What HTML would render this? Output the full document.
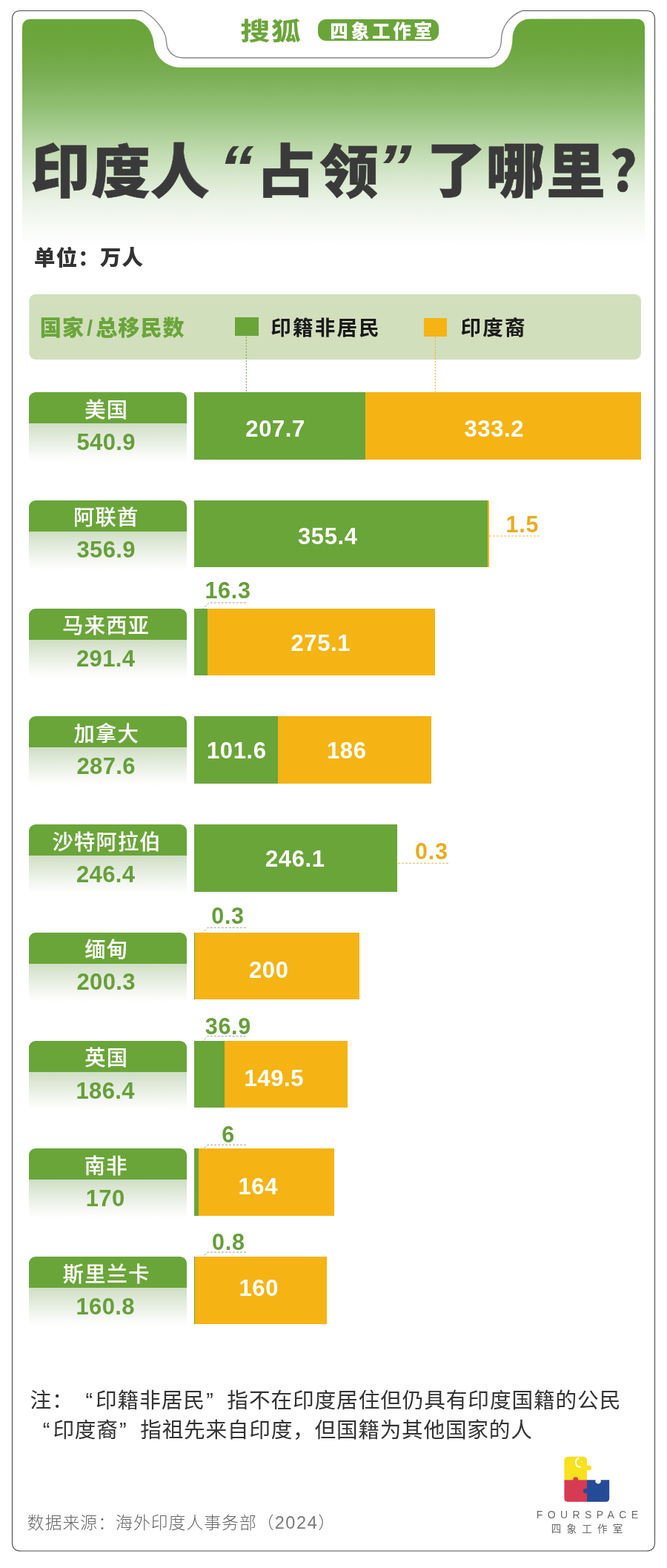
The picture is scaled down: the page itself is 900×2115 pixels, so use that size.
<!DOCTYPE html>
<html lang="zh-CN">
<head>
<meta charset="utf-8">
<title>印度人“占领”了哪里？</title>
<style>
*{margin:0;padding:0;box-sizing:border-box}
html,body{width:900px;height:2115px;background:#fff;overflow:hidden}
body{position:relative;font-family:"Liberation Sans","Noto Sans CJK SC",sans-serif;color:#333}
.abs{position:absolute;white-space:nowrap;line-height:1}
#bg{position:absolute;left:0;top:0}
.tc{font-size:80px;font-weight:900;color:#3a3a3a;line-height:80px;height:80px;transform:translateX(-50%);-webkit-text-stroke:0.6px #3a3a3a}
.tq{font-size:84px;font-weight:900;color:#3a3a3a;line-height:80px;height:80px;transform:translateX(-50%) skewX(-14deg) scaleX(1.12)}
.unit{font-size:28.4px;font-weight:900;color:#333;line-height:30px;letter-spacing:1.2px;padding-left:1.2px;transform:translateX(-50%)}
.lg1{font-size:29px;line-height:32px;font-weight:900;color:#6aa539;letter-spacing:1.1px;padding-left:1.1px;transform:translateX(-50%)}
.lg1 i{font-style:normal;margin:0 3px}
.sq{height:25.2px}
.lgt{font-size:27.6px;line-height:32px;font-weight:700;color:#1a1a1a;letter-spacing:2.1px;padding-left:2.1px;transform:translateX(-50%)}
.lab{left:39.3px;width:212.6px;height:95px}
.lab .top{position:absolute;left:0;top:0;width:100%;height:42px;background:#6aa539;border-radius:9px 9px 0 0}
.lab .bot{position:absolute;left:0;top:42px;width:100%;height:53px;background:linear-gradient(#cfdec4,#dfe9d8 30%,#f1f5ee 65%,#fdfdfc 90%,#fff 100%)}
.nm{color:#fff;font-size:28.2px;font-weight:500;line-height:30px;letter-spacing:1.3px;padding-left:1.3px;-webkit-text-stroke:0.15px #fff;transform:translateX(-50%)}
.tt{color:#669f3a;font-size:31px;font-weight:700;line-height:30px;letter-spacing:0.4px;transform:translateX(-50%);padding-left:0.4px}
.bar{height:90.7px}
.num{font-size:31px;font-weight:700;color:#fff;line-height:30px;letter-spacing:0.6px;padding-left:0.6px;transform:translateX(-50%)}
.out{font-size:30.5px;font-weight:700;line-height:30px;letter-spacing:0.7px;padding-left:0.7px;transform:translateX(-50%)}
.note{font-size:28.7px;line-height:32px;color:#333;font-weight:400;letter-spacing:0.86px}
.note b{font-weight:400;display:inline-block;width:29.56px;letter-spacing:0}
.note b.l{text-align:right;padding-right:0.14em}
.note b.r{text-align:left;padding-left:0.05em}
.src{font-size:22.8px;line-height:30px;color:#686868;font-weight:300;letter-spacing:1.05px}
.src i{font-style:normal;letter-spacing:1.6px;font-size:23.5px;color:#7a7a7a}
.brand{font-size:33px;font-weight:700;color:#6aa539;line-height:40px;letter-spacing:1.5px;padding-left:1.5px;transform:translateX(-50%) scaleX(1.2);-webkit-text-stroke:0.3px #6aa539}
.badge{left:429px;top:26px;width:163.4px;height:29.4px;border-radius:11px;background:#6aa539}
.bt{color:#fff;font-size:24.5px;font-weight:900;line-height:30px;letter-spacing:3.8px;padding-left:3.8px;transform:translateX(-50%)}
.fs{font-size:14px;line-height:16px;color:#6a6a6a;letter-spacing:6.4px;padding-left:6.4px;font-weight:400;transform:translateX(-50%)}
.fs2{font-size:13.5px;line-height:16px;color:#6a6a6a;letter-spacing:7.2px;padding-left:7.2px;font-weight:400;transform:translateX(-50%)}
</style>
</head>
<body>
<svg id="bg" width="900" height="2115" viewBox="0 0 900 2115"><defs><linearGradient id="gg" gradientUnits="userSpaceOnUse" x1="0" y1="25" x2="0" y2="345"><stop offset="0" stop-color="#69a538"/><stop offset="0.10" stop-color="#6ca63d"/><stop offset="0.23" stop-color="#78ad52"/><stop offset="0.37" stop-color="#90bf73"/><stop offset="0.47" stop-color="#a8cd92"/><stop offset="0.57" stop-color="#c2dcb2"/><stop offset="0.67" stop-color="#d8e8ce"/><stop offset="0.77" stop-color="#ebf2e6"/><stop offset="0.87" stop-color="#f7faf5"/><stop offset="0.96" stop-color="#ffffff"/></linearGradient></defs>
<path fill="url(#gg)" d="M30,345 V37.8 Q30,25.8 42,25.8 H180 C195,27.5 206,42 207.5,58 C209,76 222,89 241,91 H664 C680,90 691,74 691.5,52 C692,38 700,25.5 716,25.5 H858 Q870,25.5 870,37.5 V345 Z"/>
<path fill="none" stroke="#4e4e4e" stroke-width="1.15" d="M192.5,14.5 H28 Q16.5,14.5 16.5,26 V2080.5 Q16.5,2092 28,2092 H872 Q883.5,2092 883.5,2080.5 V26 Q883.5,14.5 872,14.5 H704.5"/><path fill="none" stroke="#858585" stroke-width="1.35" d="M192.5,14.5 C207,22 224,40 224.5,56 C225,70 234,78 248,78 H657 C668,77.8 676.5,68 676.5,53 C676.5,36 688,21 704.5,14.5"/>
<rect x="39.3" y="396.7" width="825.7" height="88.3" rx="9" fill="#d2dfbd"/><path d="M332.3,454 V528.5" stroke="#6aa539" stroke-width="1" stroke-dasharray="2 2" fill="none"/><path d="M587.3,455 V528.5" stroke="#f0a818" stroke-width="1" stroke-dasharray="2 2" fill="none"/>
<path d="M660.0,723.0 H728.3" stroke="#e9b035" stroke-width="0.9" stroke-dasharray="3 2" fill="none"/><path d="M331.7,813.0 H282.0 L274.0,821.0" stroke="#8f9a86" stroke-width="0.9" stroke-dasharray="3 2" fill="none"/><path d="M537.0,1164.3 H606.7" stroke="#e9b035" stroke-width="0.9" stroke-dasharray="3 2" fill="none"/><path d="M331.7,1251.3 H280.0 L272.0,1259.3" stroke="#8f9a86" stroke-width="0.9" stroke-dasharray="3 2" fill="none"/><path d="M331.7,1397.7 H280.0 L272.0,1405.7" stroke="#8f9a86" stroke-width="0.9" stroke-dasharray="3 2" fill="none"/><path d="M332.0,1544.3 H280.0 L272.0,1552.3" stroke="#8f9a86" stroke-width="0.9" stroke-dasharray="3 2" fill="none"/><path d="M332.0,1689.0 H280.0 L272.0,1697.0" stroke="#8f9a86" stroke-width="0.9" stroke-dasharray="3 2" fill="none"/>
<g><path fill="#f9e11e" d="M761.4,1996.6 V1970.5 Q761.4,1964.7 767.2,1964.7 H786.2 Q792,1964.7 792,1970.5 V1976.6 H794.6 A3.3,3.3 0 0 1 794.6,1983.2 H792 V1996.6 Z"/><path fill="none" stroke="#fff" stroke-width="2" stroke-linecap="round" d="M780.4,1967 A6.2,6.2 0 0 0 782.8,1978.8"/><circle cx="785" cy="1971.7" r="0.9" fill="#fff"/><path fill="#d73a53" d="M761.4,1996.2 H773.4 V1995.6 A3.3,3.3 0 0 1 780,1995.6 V1996.2 H792 V2025.8 H766.2 Q761.4,2025.8 761.4,2021 Z"/><path fill="#244b97" d="M792,1996.2 H803.7 A3.5,3.5 0 0 0 810.7,1999 V1996.2 H822.2 V2021 Q822.2,2025.8 817.4,2025.8 H792 V2014.3 H790.3 A3.3,3.3 0 0 1 790.3,2007.7 H792 Z"/></g>
</svg>
<div class="abs brand" id="brand" style="left:364.5px;top:23.2px">搜狐</div>
<div class="abs badge"></div>
<div class="abs bt" id="bt" style="left:514.2px;top:28.0px">四象工作室</div>
<div class="abs tc" id="t0" style="left:81.5px;top:192.0px">印</div><div class="abs tc" id="t1" style="left:163.0px;top:193.5px;transform:translateX(-50%) scaleY(0.965)">度</div><div class="abs tc" id="t2" style="left:242.7px;top:193.0px">人</div><div class="abs tq" id="t3" style="left:318.5px;top:185.8px">“</div><div class="abs tc" id="t4" style="left:385.7px;top:192.9px;transform:translateX(-50%) scaleY(0.965)">占</div><div class="abs tc" id="t5" style="left:471.0px;top:194.0px;transform:translateX(-50%) scaleY(0.965)">领</div><div class="abs tq" id="t6" style="left:532.0px;top:185.3px">”</div><div class="abs tc" id="t7" style="left:615.5px;top:191.1px">了</div><div class="abs tc" id="t8" style="left:695.3px;top:191.8px">哪</div><div class="abs tc" id="t9" style="left:777.0px;top:192.6px">里</div><div class="abs tc" id="t10" style="left:857.8px;top:192.0px;font-size:76px;transform:translateX(-50%) scaleX(0.9)">？</div>
<div class="abs unit" id="unit" style="left:119.5px;top:333.0px">单位：万人</div>
<div class="abs lg1" id="lg1" style="left:151.2px;top:427.1px">国家<i>/</i>总移民数</div>
<div class="abs sq" style="left:316.7px;top:428.3px;width:32.3px;background:#6aa539"></div>
<div class="abs lgt" id="lgt1" style="left:438.5px;top:427.0px">印籍非居民</div>
<div class="abs sq" style="left:572.3px;top:429px;width:31px;background:#f5b414"></div>
<div class="abs lgt" id="lgt2" style="left:665.0px;top:427.0px">印度裔</div>
<div class="abs lab" style="top:529.00px"><div class="top"></div><div class="bot"></div></div><div class="abs nm" id="nm0" style="left:143.0px;top:537.6px">美国</div><div class="abs tt" id="tt0" style="left:143.0px;top:582.0px">540.9</div>
<div class="abs bar" style="left:261.7px;top:529.00px;width:603.1px;background:#f5b414"></div><div class="abs bar" style="left:261.7px;top:529.00px;width:231.6px;background:#6aa539"></div>
<div class="abs num" id="g0" style="left:371.3px;top:564.0px">207.7</div><div class="abs num" id="y0" style="left:666.5px;top:564.0px">333.2</div>
<div class="abs lab" style="top:674.75px"><div class="top"></div><div class="bot"></div></div><div class="abs nm" id="nm1" style="left:142.5px;top:683.0px">阿联酋</div><div class="abs tt" id="tt1" style="left:143.0px;top:727.2px">356.9</div>
<div class="abs bar" style="left:261.7px;top:674.75px;width:397.9px;background:#f5b414"></div><div class="abs bar" style="left:261.7px;top:674.75px;width:396.3px;background:#6aa539"></div>
<div class="abs num" id="g1" style="left:442.0px;top:709.0px">355.4</div><div class="abs out" id="y1" style="left:704.5px;top:691.5px;color:#ebac1f">1.5</div>
<div class="abs lab" style="top:820.50px"><div class="top"></div><div class="bot"></div></div><div class="abs nm" id="nm2" style="left:142.5px;top:829.1px">马来西亚</div><div class="abs tt" id="tt2" style="left:142.5px;top:873.5px">291.4</div>
<div class="abs bar" style="left:261.7px;top:820.50px;width:324.9px;background:#f5b414"></div><div class="abs bar" style="left:261.7px;top:820.50px;width:18.2px;background:#6aa539"></div>
<div class="abs out" id="g2" style="left:307.2px;top:781.0px;color:#669f3a">16.3</div><div class="abs num" id="y2" style="left:432.5px;top:853.0px">275.1</div>
<div class="abs lab" style="top:966.25px"><div class="top"></div><div class="bot"></div></div><div class="abs nm" id="nm3" style="left:143.0px;top:974.9px">加拿大</div><div class="abs tt" id="tt3" style="left:143.0px;top:1018.8px">287.6</div>
<div class="abs bar" style="left:261.7px;top:966.25px;width:320.7px;background:#f5b414"></div><div class="abs bar" style="left:261.7px;top:966.25px;width:113.3px;background:#6aa539"></div>
<div class="abs num" id="g3" style="left:319.0px;top:997.8px">101.6</div><div class="abs num" id="y3" style="left:467.5px;top:997.8px">186</div>
<div class="abs lab" style="top:1112.00px"><div class="top"></div><div class="bot"></div></div><div class="abs nm" id="nm4" style="left:143.5px;top:1120.6px">沙特阿拉伯</div><div class="abs tt" id="tt4" style="left:142.5px;top:1165.0px">246.4</div>
<div class="abs bar" style="left:261.7px;top:1112.00px;width:274.7px;background:#f5b414"></div><div class="abs bar" style="left:261.7px;top:1112.00px;width:274.4px;background:#6aa539"></div>
<div class="abs num" id="g4" style="left:398.0px;top:1143.5px">246.1</div><div class="abs out" id="y4" style="left:582.0px;top:1133.0px;color:#ebac1f">0.3</div>
<div class="abs lab" style="top:1257.75px"><div class="top"></div><div class="bot"></div></div><div class="abs nm" id="nm5" style="left:143.0px;top:1266.0px">缅甸</div><div class="abs tt" id="tt5" style="left:143.0px;top:1310.2px">200.3</div>
<div class="abs bar" style="left:261.7px;top:1257.75px;width:223.3px;background:#f5b414"></div><div class="abs bar" style="left:261.7px;top:1257.75px;width:0.3px;background:#6aa539"></div>
<div class="abs out" id="g5" style="left:307.2px;top:1219.5px;color:#669f3a">0.3</div><div class="abs num" id="y5" style="left:362.5px;top:1294.0px">200</div>
<div class="abs lab" style="top:1403.50px"><div class="top"></div><div class="bot"></div></div><div class="abs nm" id="nm6" style="left:143.0px;top:1412.1px">英国</div><div class="abs tt" id="tt6" style="left:142.0px;top:1456.5px">186.4</div>
<div class="abs bar" style="left:261.7px;top:1403.50px;width:207.8px;background:#f5b414"></div><div class="abs bar" style="left:261.7px;top:1403.50px;width:41.1px;background:#6aa539"></div>
<div class="abs out" id="g6" style="left:307.5px;top:1369.2px;color:#669f3a">36.9</div><div class="abs num" id="y6" style="left:369.5px;top:1440.0px">149.5</div>
<div class="abs lab" style="top:1549.25px"><div class="top"></div><div class="bot"></div></div><div class="abs nm" id="nm7" style="left:142.5px;top:1558.3px">南非</div><div class="abs tt" id="tt7" style="left:142.0px;top:1601.8px">170</div>
<div class="abs bar" style="left:261.7px;top:1549.25px;width:189.5px;background:#f5b414"></div><div class="abs bar" style="left:261.7px;top:1549.25px;width:6.7px;background:#6aa539"></div>
<div class="abs out" id="g7" style="left:307.8px;top:1515.2px;color:#669f3a">6</div><div class="abs num" id="y7" style="left:348.0px;top:1585.5px">164</div>
<div class="abs lab" style="top:1695.00px"><div class="top"></div><div class="bot"></div></div><div class="abs nm" id="nm8" style="left:143.0px;top:1703.6px">斯里兰卡</div><div class="abs tt" id="tt8" style="left:142.0px;top:1748.0px">160.8</div>
<div class="abs bar" style="left:261.7px;top:1695.00px;width:179.3px;background:#f5b414"></div><div class="abs bar" style="left:261.7px;top:1695.00px;width:0.9px;background:#6aa539"></div>
<div class="abs out" id="g8" style="left:308.0px;top:1659.5px;color:#669f3a">0.8</div><div class="abs num" id="y8" style="left:349.0px;top:1723.0px">160</div>
<div class="abs note" id="note1" style="left:40.4px;top:1872.9px">注：<b class="l">“</b>印籍非居民<b class="r">”</b>指不在印度居住但仍具有印度国籍的公民</div>
<div class="abs note" id="note2" style="letter-spacing:0.72px;left:41.9px;top:1912.9px"><b class="l">“</b>印度裔<b class="r">”</b>指祖先来自印度，但国籍为其他国家的人</div>
<div class="abs src" id="src" style="left:36.8px;top:2038.6px">数据来源：海外印度人事务部（<i>2024</i>）</div>
<div class="abs fs" id="fs" style="left:792.5px;top:2035.3px">FOURSPACE</div>
<div class="abs fs2" id="fs2" style="left:792.0px;top:2054.8px">四象工作室</div>
</body>
</html>
